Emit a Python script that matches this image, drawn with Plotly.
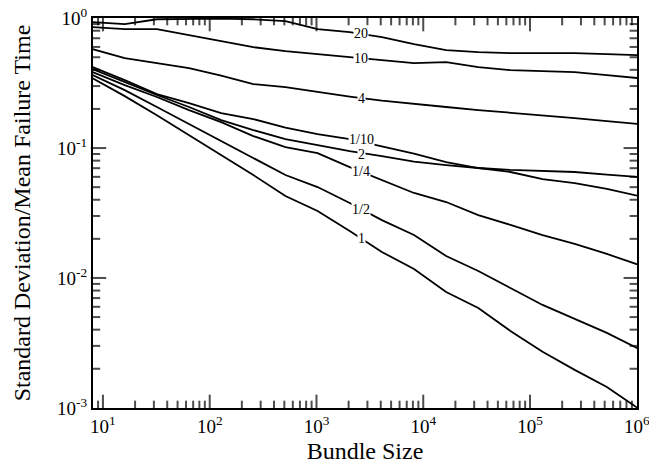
import numpy as np
import plotly.graph_objects as go

bundle_size = [2 ** k for k in range(3, 21)]

curve_labels = ["20", "10", "4", "1/10", "2", "1/4", "1/2", "1"]
label_yshift = [0, 0, 0, 2, -2, 0, 0, 0]

sd_20 = [0.932, 0.899, 0.98, 0.99, 0.99, 0.98, 0.95, 0.823, 0.780, 0.714,
         0.631, 0.567, 0.548, 0.538, 0.538, 0.538, 0.528, 0.519]
sd_10 = [0.853, 0.823, 0.823, 0.740, 0.665, 0.598, 0.557, 0.528, 0.501, 0.475,
         0.451, 0.459, 0.420, 0.398, 0.391, 0.384, 0.364, 0.345]
sd_4 = [0.577, 0.492, 0.451, 0.413, 0.361, 0.311, 0.294, 0.270, 0.249, 0.232,
        0.218, 0.207, 0.196, 0.1875, 0.179, 0.170, 0.161, 0.153]
sd_1_10 = [0.420, 0.333, 0.260, 0.222, 0.186, 0.167, 0.1438, 0.128, 0.1173, 0.1036,
           0.0907, 0.078, 0.0702, 0.0654, 0.0577, 0.0538, 0.0484, 0.0427]
sd_2 = [0.405, 0.322, 0.256, 0.207, 0.164, 0.1376, 0.1173, 0.1055, 0.0948, 0.0868,
        0.0787, 0.074, 0.0702, 0.0678, 0.0665, 0.0654, 0.0625, 0.0598]
sd_1_4 = [0.384, 0.305, 0.247, 0.196, 0.1585, 0.1237, 0.1018, 0.0915, 0.0714, 0.0567,
          0.0451, 0.0384, 0.0305, 0.0256, 0.0214, 0.01827, 0.0153, 0.01259]
sd_1_2 = [0.364, 0.279, 0.207, 0.153, 0.1132, 0.0838, 0.0620, 0.0501, 0.0378, 0.0279,
          0.0214, 0.01476, 0.01132, 0.00838, 0.0062, 0.00484, 0.00378, 0.00284]
sd_1 = [0.345, 0.251, 0.179, 0.1259, 0.0884, 0.062, 0.0427, 0.0328, 0.0230, 0.01585,
        0.01173, 0.0078, 0.00588, 0.00391, 0.0027, 0.00196, 0.00145, 0.000982]

series = [sd_20, sd_10, sd_4, sd_1_10, sd_2, sd_1_4, sd_1_2, sd_1]

label_x = 2630.0

x_ticktext = ["10<sup>1</sup>", "10<sup>2</sup>", "10<sup>3</sup>", "10<sup>4</sup>",
              "10<sup>5</sup>", "10<sup>6</sup>"]
y_ticktext = ["10<sup>-3</sup>", "10<sup>-2</sup>", "10<sup>-1</sup>", "10<sup>0</sup>"]
x_tickvals = [10, 100, 1000, 10000, 100000, 1000000]
y_tickvals = [0.001, 0.01, 0.1, 1]
minor_mult = [2, 3, 4, 5, 6, 7, 8, 9]

X_MIN_LOG = float(np.log10(8.07))
X_MAX_LOG = 6.0
Y_MIN_LOG = -3.0
Y_MAX_LOG = 0.0

W, H = 649, 466
ML, MR, MT, MB = 93, 12, 18, 58
plot_w = W - ML - MR
plot_h = H - MT - MB
px_per_dec_x = plot_w / (X_MAX_LOG - X_MIN_LOG)
px_per_dec_y = plot_h / (Y_MAX_LOG - Y_MIN_LOG)

fig = go.Figure()
for lab, ys in zip(curve_labels, series):
    fig.add_trace(go.Scatter(x=bundle_size, y=ys, mode="lines",
                             line=dict(color="black", width=1.8),
                             name=lab, showlegend=False, hoverinfo="skip"))

# tick marks on all four sides, drawn as line-shaped markers from the tick values
major_len, minor_len = 11, 6
xt_x, xt_y, xt_s = [], [], []
yt_x, yt_y, yt_s = [], [], []


def x_tick(lv, length):
    d = (length / 2.0) / px_per_dec_y
    for c in (Y_MIN_LOG + d, Y_MAX_LOG - d):
        xt_x.append(float(10 ** lv))
        xt_y.append(float(10 ** c))
        xt_s.append(length)


def y_tick(lv, length):
    d = (length / 2.0) / px_per_dec_x
    for c in (X_MIN_LOG + d, X_MAX_LOG - d):
        yt_x.append(float(10 ** c))
        yt_y.append(float(10 ** lv))
        yt_s.append(length)


for v in [1] + x_tickvals:
    for m in minor_mult:
        lv = np.log10(v * m)
        if X_MIN_LOG < lv < X_MAX_LOG:
            x_tick(lv, minor_len)
for v in x_tickvals:
    lv = np.log10(v)
    if X_MIN_LOG < lv < X_MAX_LOG - 1e-9:
        x_tick(lv, major_len)
for v in y_tickvals:
    for m in minor_mult:
        lv = np.log10(v * m)
        if Y_MIN_LOG < lv < Y_MAX_LOG:
            y_tick(lv, minor_len)
for v in y_tickvals:
    lv = np.log10(v)
    if Y_MIN_LOG + 1e-9 < lv < Y_MAX_LOG - 1e-9:
        y_tick(lv, major_len)

fig.add_trace(go.Scatter(x=xt_x, y=xt_y, mode="markers", showlegend=False,
                         hoverinfo="skip", cliponaxis=False,
                         marker=dict(symbol="line-ns-open", size=xt_s, color="black",
                                     line=dict(color="black", width=2))))
fig.add_trace(go.Scatter(x=yt_x, y=yt_y, mode="markers", showlegend=False,
                         hoverinfo="skip", cliponaxis=False,
                         marker=dict(symbol="line-ew-open", size=yt_s, color="black",
                                     line=dict(color="black", width=2))))

lx = np.log10(bundle_size)
for lab, ys, dy in zip(curve_labels, series, label_yshift):
    ly = float(np.interp(np.log10(label_x), lx, np.log10(ys)))
    fig.add_annotation(x=float(np.log10(label_x)), y=ly, text=lab, showarrow=False,
                       yshift=dy,
                       font=dict(family="Liberation Serif", size=14, color="black"),
                       bgcolor="white", borderpad=0, xanchor="center", yanchor="middle")

axis_common = dict(
    showgrid=False, zeroline=False, showline=True, linecolor="black", linewidth=2,
    mirror=True, ticks="",
    tickfont=dict(family="Liberation Serif", size=19, color="black"),
    automargin=False, ticklabeloverflow="allow",
)

fig.update_xaxes(type="log", range=[X_MIN_LOG, X_MAX_LOG + 0.002],
                 tickmode="array", tickvals=x_tickvals, ticktext=x_ticktext,
                 title=dict(text="Bundle Size", standoff=6,
                            font=dict(family="Liberation Serif", size=24, color="black")),
                 **axis_common)
fig.update_yaxes(type="log", range=[Y_MIN_LOG - 0.001, Y_MAX_LOG + 0.001],
                 tickmode="array", tickvals=y_tickvals, ticktext=y_ticktext,
                 title=dict(text="Standard Deviation/Mean Failure Time", standoff=20,
                            font=dict(family="Liberation Serif", size=24, color="black")),
                 **axis_common)

fig.update_layout(template="none", width=W, height=H,
                  plot_bgcolor="white", paper_bgcolor="white",
                  margin=dict(l=ML, r=MR, t=MT, b=MB))

fig.write_html("out.html", post_script="document.body.style.margin='0';",
               config={"displayModeBar": False})
